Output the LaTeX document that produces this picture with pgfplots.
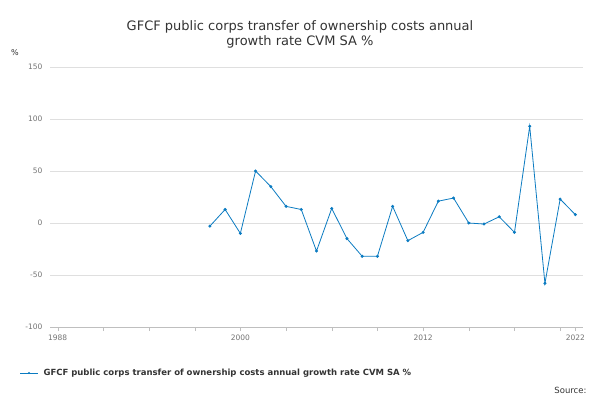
\documentclass[border=0pt]{standalone}
\usepackage{pgfplots}
\pgfplotsset{compat=1.18}
\usepackage{fontspec}
\setmainfont{DejaVu Sans}
\definecolor{ln}{HTML}{0B7BC1}
\definecolor{tx}{HTML}{333333}
\begin{document}
\begin{tikzpicture}
\path[use as bounding box] (0,0) rectangle (600pt,400pt);
\begin{axis}[at={(50pt,73pt)},anchor=south west,width=533pt,height=260pt,scale only axis,
xmin=1987.5,xmax=2022.5,ymin=-100,ymax=150,
ytick={-100,-50,0,50,100,150},
xtick={1988,2000,2012,2022},
minor xtick={1991,1994,1997,2003,2006,2009,2015,2018,2021},
axis x line*=bottom,axis y line*=left,
y axis line style={draw=none},
ytick style={draw=none},
ymajorgrids,grid style={gray!25},
x axis line style={gray!50},
xtick style={gray!50},
major tick length=4pt,minor tick length=4pt,
tick align=outside,
ticklabel style={font=\fontsize{7.5}{9}\selectfont,text=gray!90!black},
/pgf/number format/assume math mode=true,
/pgf/number format/1000 sep={},
clip=false]
\addplot[ln,thick,mark=*,mark size=1.1pt] coordinates {
(1998,-3)(1999,13)(2000,-10)(2001,50)(2002,35)(2003,16)(2004,13)(2005,-27)(2006,14)(2007,-15)(2008,-32)(2009,-32)(2010,16)(2011,-17)(2012,-9)(2013,21)(2014,24)(2015,0)(2016,-1)(2017,6)(2018,-9)(2019,93)(2020,-58)(2021,23)(2022,8)};
\end{axis}
\node[text=tx,font=\fontsize{13}{15}\selectfont,align=center] at (300pt,366pt) {GFCF public corps transfer of ownership costs annual\\growth rate CVM SA \%};
\node[text=tx,font=\fontsize{8}{9}\selectfont] at (15pt,347pt) {\%};
\draw[ln,thick] (20pt,27pt)--(38pt,27pt); \fill[ln] (29pt,27pt) circle (1.2pt);
\node[anchor=west,text=tx,font=\bfseries\fontsize{8.5}{10}\selectfont] at (40pt,27pt) {GFCF public corps transfer of ownership costs annual growth rate CVM SA \%};
\node[anchor=east,text=tx,font=\fontsize{8.5}{10}\selectfont] at (590pt,10pt) {Source:};
\end{tikzpicture}
\end{document}
